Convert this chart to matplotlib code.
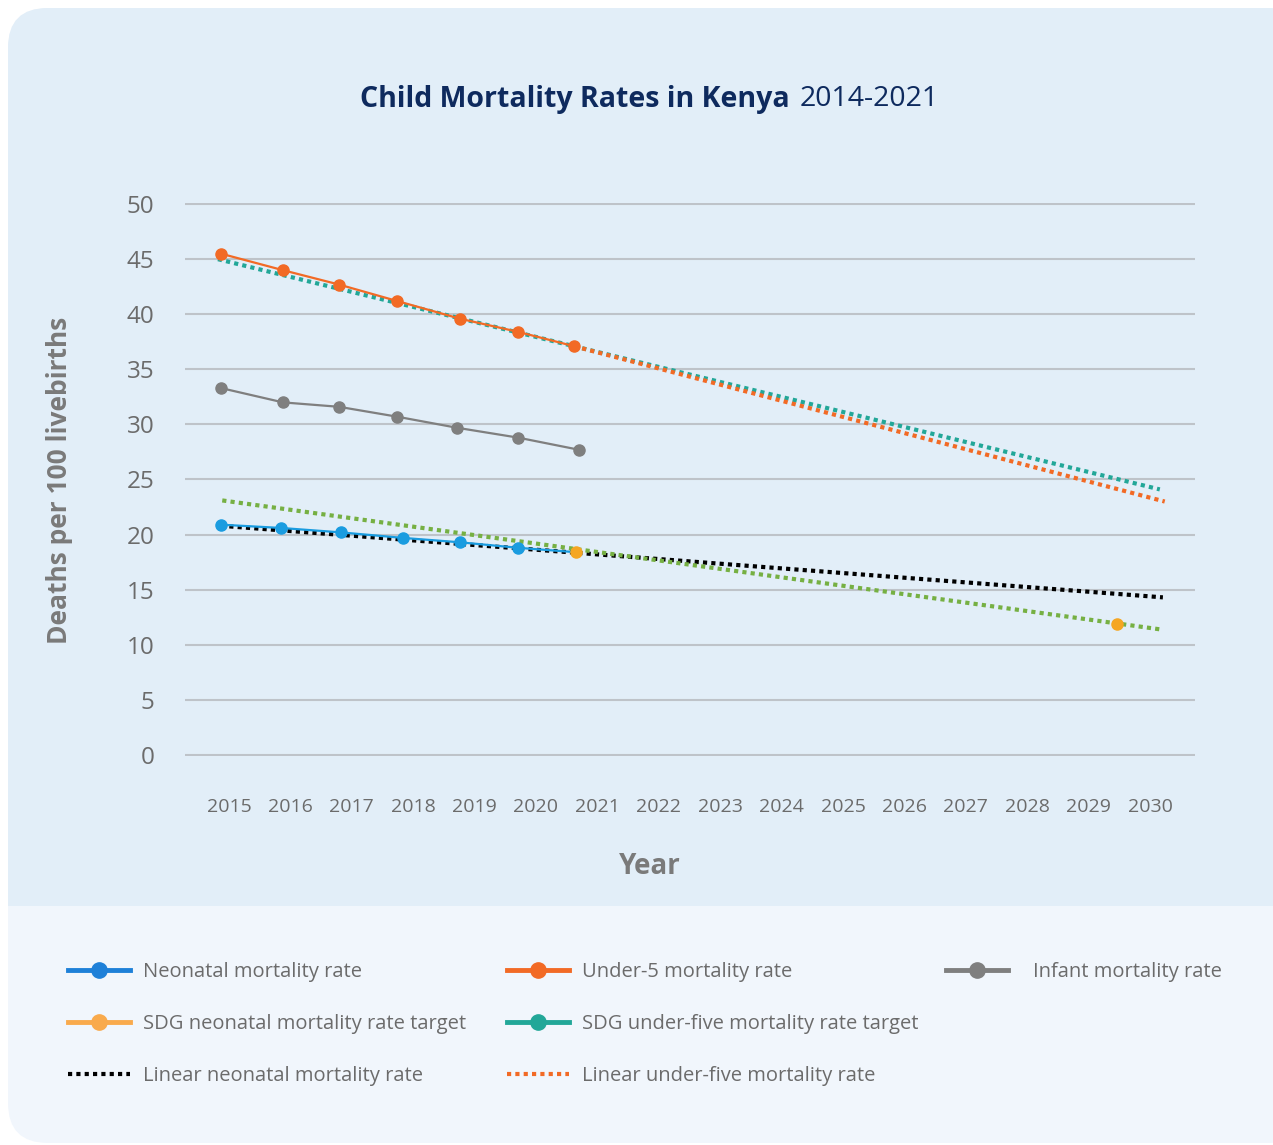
import matplotlib
matplotlib.use("Agg")
import matplotlib.pyplot as plt
from matplotlib.patches import FancyBboxPatch, Rectangle
from matplotlib.lines import Line2D

plt.rcParams['font.family'] = ['Open Sans', 'DejaVu Sans']

# data
years = list(range(2015, 2031))
y_ticks = list(range(0, 51, 5))

under5_x = [2014.87, 2015.88, 2016.79, 2017.74, 2018.76, 2019.71, 2020.62]
under5 = [45.5, 44.0, 42.7, 41.2, 39.6, 38.4, 37.1]

infant_x = [2014.87, 2015.88, 2016.79, 2017.74, 2018.71, 2019.71, 2020.70]
infant = [33.3, 32.0, 31.6, 30.7, 29.7, 28.8, 27.7]

neonatal_x = [2014.87, 2015.85, 2016.82, 2017.83, 2018.76, 2019.71, 2020.65]
neonatal = [20.9, 20.6, 20.2, 19.7, 19.3, 18.8, 18.4]

sdg_neo_x = [2020.65, 2029.46]
sdg_neo = [18.4, 11.9]

u5_target_trend_x = [2014.82, 2030.16]
u5_target_trend = [45.0, 24.1]
u5_trend_x = [2020.62, 2030.24]
u5_trend = [37.1, 23.0]
neo_trend_x = [2014.87, 2030.21]
neo_trend = [20.8, 14.3]
neo_target_trend_x = [2014.89, 2030.16]
neo_target_trend = [23.1, 11.4]

C_ORANGE = '#F26A25'
C_GRAY = '#7F7F7F'
C_BLUE = '#1A9CE0'
C_BLUE_LEG = '#1E80D8'
C_YELLOW = '#F5A623'
C_YELLOW_LEG = '#F9AA4C'
C_TEAL = '#22A798'
C_GREEN = '#76B043'
TXT = '#6B6B6B'

W, H = 1273, 1145
fig = plt.figure(figsize=(W / 100, H / 100), dpi=100)
fig.patch.set_facecolor('white')

# background panels (pixel coords)
bg = fig.add_axes([0, 0, 1, 1], zorder=0)
bg.set_xlim(0, W)
bg.set_ylim(H, 0)
bg.axis('off')
bg.add_patch(FancyBboxPatch((8, 8), 1300, 1135, boxstyle='round,pad=0,rounding_size=40',
                            fc='#F1F6FC', ec='none'))
bg.add_patch(FancyBboxPatch((8, 8), 1300, 960, boxstyle='round,pad=0,rounding_size=40',
                            fc='#E2EEF8', ec='none'))
bg.add_patch(Rectangle((8, 906), 1300, 120, fc='#F1F6FC', ec='none'))

# main plot
left, right = 185 / W, 1195 / W
bottom, top = (H - 756) / H, (H - 203) / H
ax = fig.add_axes([left, bottom, right - left, top - bottom], zorder=1)
ax.set_facecolor('none')
px_per_year = 61.4
ax.set_xlim(2015 - 44 / px_per_year, 2030 + 45 / px_per_year)
ax.set_ylim(-0.1, 50.1)

for s in ax.spines.values():
    s.set_visible(False)
ax.set_yticks(y_ticks)
ax.set_xticks(years)
ax.yaxis.grid(True, color='#BEC3C9', lw=1.5)
ax.set_axisbelow(True)
ax.tick_params(axis='y', length=0, pad=22, labelsize=17.5, labelcolor=TXT)
ax.tick_params(axis='x', length=0, pad=30, labelsize=14, labelcolor=TXT)

dot = (0, (1, 1))
ax.plot(u5_target_trend_x, u5_target_trend, color=C_TEAL, lw=3, ls=dot, zorder=2)
ax.plot(u5_trend_x, u5_trend, color=C_ORANGE, lw=3, ls=dot, zorder=2)
ax.plot(neo_trend_x, neo_trend, color='black', lw=3, ls=dot, zorder=2)
ax.plot(neo_target_trend_x, neo_target_trend, color=C_GREEN, lw=3, ls=dot, zorder=2)

ax.plot(under5_x, under5, color=C_ORANGE, lw=1.6, marker='o', ms=8, zorder=3)
ax.plot(infant_x, infant, color=C_GRAY, lw=1.6, marker='o', ms=8, zorder=3)
ax.plot(neonatal_x, neonatal, color=C_BLUE, lw=1.6, marker='o', ms=8,
        markevery=list(range(len(neonatal) - 1)), zorder=3)
ax.plot(sdg_neo_x, sdg_neo, color=C_YELLOW, ls='none', marker='o', ms=8, zorder=4)

# titles
fig.text(790 / W, 1 - 99 / H, 'Child Mortality Rates in Kenya', ha='right', va='center',
         fontsize=20.5, fontweight='bold', color='#0E2A5E')
fig.text(800 / W, 1 - 99 / H, '2014-2021', ha='left', va='center',
         fontsize=20.5, color='#0E2A5E')
fig.text(60 / W, 1 - 480 / H, 'Deaths per 100 livebirths', rotation=90, ha='center',
         va='center', fontsize=19, fontweight='bold', color='#7A7A7A')
fig.text(650 / W, 1 - 866 / H, 'Year', ha='center', va='center', fontsize=20,
         fontweight='bold', color='#7A7A7A')

# legend, one block per column
def solid(c):
    return Line2D([], [], color=c, lw=3.5, marker='o', ms=11)

def dotted(c):
    return Line2D([], [], color=c, lw=3, ls=dot)

leg_kw = dict(loc='upper left', frameon=False, borderpad=0, borderaxespad=0,
              fontsize=14.5, labelcolor=TXT, handlelength=3.08, labelspacing=1.59)
col1 = [(solid(C_BLUE_LEG), 'Neonatal mortality rate'),
        (solid(C_YELLOW_LEG), 'SDG neonatal mortality rate target'),
        (dotted('black'), 'Linear neonatal mortality rate')]
col2 = [(solid(C_ORANGE), 'Under-5 mortality rate'),
        (solid(C_TEAL), 'SDG under-five mortality rate target'),
        (dotted(C_ORANGE), 'Linear under-five mortality rate')]
col3 = [(solid(C_GRAY), 'Infant mortality rate')]

leg_top = 1 - 962 / H
for col, x0, tp in [(col1, 68, 0.65), (col2, 507, 0.65), (col3, 946, 1.24)]:
    fig.legend([h for h, _ in col], [t for _, t in col],
               bbox_to_anchor=(x0 / W, leg_top), handletextpad=tp, **leg_kw)

fig.savefig('out.png', dpi=100, facecolor=fig.get_facecolor())
